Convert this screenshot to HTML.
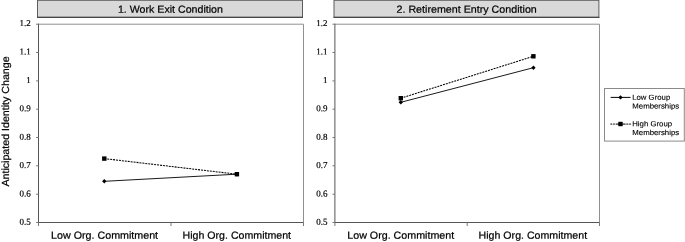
<!DOCTYPE html>
<html>
<head>
<meta charset="utf-8">
<title>Anticipated Identity Change</title>
<style>
html,body{margin:0;padding:0;background:#fff;}
body{width:685px;height:242px;overflow:hidden;}
svg{display:block;}
.sans{font-family:"Liberation Sans",Arial,Helvetica,sans-serif;fill:#000;stroke:#000;stroke-width:0.22px;}
.serif{font-family:"Liberation Serif","Times New Roman",serif;fill:#000;font-size:9px;stroke:#000;stroke-width:0.18px;}
</style>
</head>
<body>
<svg width="685" height="242" viewBox="0 0 685 242" text-rendering="geometricPrecision">
<rect x="0" y="0" width="685" height="242" fill="#fff"/>

<!-- Panel headers -->
<rect x="37.5" y="0.3" width="265" height="17" fill="#d9d9d9" stroke="#5c5c5c" stroke-width="1"/>
<path d="M37 17.3H303" stroke="#3c3c3c" stroke-width="1" fill="none"/>
<rect x="334" y="0.3" width="264.9" height="17" fill="#d9d9d9" stroke="#5c5c5c" stroke-width="1"/>
<path d="M333.5 17.3H599.4" stroke="#3c3c3c" stroke-width="1" fill="none"/>
<g class="sans" font-size="10.3">
<text transform="translate(117.9 12.7) rotate(0.05)" textLength="105" lengthAdjust="spacingAndGlyphs">1. Work Exit Condition</text>
<text transform="translate(396.5 12.7) rotate(0.05)" textLength="140.3" lengthAdjust="spacingAndGlyphs">2. Retirement Entry Condition</text>
</g>

<!-- Panel 1 frame -->
<g fill="none" stroke-width="1">
<path d="M38.5 24.2H303.5V222.5" stroke="#909090"/>
<path d="M38.5 23.7V222.5H303.5" stroke="#555"/>
<path d="M36.1 24.2H38.5M36.1 52.5H38.5M36.1 80.9H38.5M36.1 109.2H38.5M36.1 137.5H38.5M36.1 165.8H38.5M36.1 194.2H38.5M36.1 222.5H38.5" stroke="#777"/>
<path d="M38.5 222.5V226M171 222.5V226M303.5 222.5V226" stroke="#777"/>
</g>
<!-- Panel 2 frame -->
<g fill="none" stroke-width="1">
<path d="M334.9 24.2H599.5V222.5" stroke="#909090"/>
<path d="M334.9 23.7V222.5H599.5" stroke="#555"/>
<path d="M332.5 24.2H334.9M332.5 52.5H334.9M332.5 80.9H334.9M332.5 109.2H334.9M332.5 137.5H334.9M332.5 165.8H334.9M332.5 194.2H334.9M332.5 222.5H334.9" stroke="#777"/>
<path d="M334.9 222.5V226M467.2 222.5V226M599.5 222.5V226" stroke="#777"/>
</g>

<!-- Y tick labels panel 1 -->
<g class="serif" text-anchor="end">
<text transform="translate(30.8 26.10) rotate(0.05)">1.2</text>
<text transform="translate(30.8 54.49) rotate(0.05)">1.1</text>
<text transform="translate(30.8 82.88) rotate(0.05)">1</text>
<text transform="translate(30.8 111.27) rotate(0.05)">0.9</text>
<text transform="translate(30.8 139.66) rotate(0.05)">0.8</text>
<text transform="translate(30.8 168.05) rotate(0.05)">0.7</text>
<text transform="translate(30.8 196.44) rotate(0.05)">0.6</text>
<text transform="translate(30.8 224.83) rotate(0.05)">0.5</text>
</g>
<!-- Y tick labels panel 2 -->
<g class="serif" text-anchor="end">
<text transform="translate(327.5 26.10) rotate(0.05)">1.2</text>
<text transform="translate(327.5 54.49) rotate(0.05)">1.1</text>
<text transform="translate(327.5 82.88) rotate(0.05)">1</text>
<text transform="translate(327.5 111.27) rotate(0.05)">0.9</text>
<text transform="translate(327.5 139.66) rotate(0.05)">0.8</text>
<text transform="translate(327.5 168.05) rotate(0.05)">0.7</text>
<text transform="translate(327.5 196.44) rotate(0.05)">0.6</text>
<text transform="translate(327.5 224.83) rotate(0.05)">0.5</text>
</g>

<!-- Y axis title -->
<text class="sans" font-size="10.3" transform="translate(8.5 186.6) rotate(-90)" textLength="130.2" lengthAdjust="spacingAndGlyphs">Anticipated Identity Change</text>

<!-- X labels -->
<g class="sans" font-size="10.3">
<text transform="translate(51.1 238.7) rotate(0.05)" textLength="107" lengthAdjust="spacingAndGlyphs">Low Org. Commitment</text>
<text transform="translate(182.55 238.7) rotate(0.05)" textLength="108.5" lengthAdjust="spacingAndGlyphs">High Org. Commitment</text>
<text transform="translate(347.25 238.7) rotate(0.05)" textLength="107" lengthAdjust="spacingAndGlyphs">Low Org. Commitment</text>
<text transform="translate(478.6 238.7) rotate(0.05)" textLength="108.5" lengthAdjust="spacingAndGlyphs">High Org. Commitment</text>
</g>

<!-- Data panel 1 -->
<g stroke="#000" stroke-width="0.9" fill="none">
<path d="M104.3 181.3L236.9 174.2"/>
<path d="M104.3 158.6L236.9 174.2" stroke-dasharray="2 0.95" stroke-width="1.05"/>
</g>
<g fill="#000">
<path d="M104.3 179.10l2.2 2.2l-2.2 2.2l-2.2-2.2z"/>
<path d="M236.9 172.00l2.2 2.2l-2.2 2.2l-2.2-2.2z"/>
<rect x="102.10" y="156.40" width="4.4" height="4.4"/>
<rect x="234.70" y="172.00" width="4.4" height="4.4"/>
</g>

<!-- Data panel 2 -->
<g stroke="#000" stroke-width="0.9" fill="none">
<path d="M400.8 102.3L533.4 67.7"/>
<path d="M400.8 98.2L533.4 56.3" stroke-dasharray="2 0.95" stroke-width="1.05"/>
</g>
<g fill="#000">
<path d="M400.8 100.10l2.2 2.2l-2.2 2.2l-2.2-2.2z"/>
<path d="M533.4 65.50l2.2 2.2l-2.2 2.2l-2.2-2.2z"/>
<rect x="398.60" y="96.00" width="4.4" height="4.4"/>
<rect x="531.20" y="54.10" width="4.4" height="4.4"/>
</g>

<!-- Legend -->
<rect x="604.5" y="88.5" width="79.8" height="52.6" fill="#fff" stroke="#8a8a8a" stroke-width="1"/>
<g stroke="#000" stroke-width="1" fill="none">
<path d="M610.7 97.4H630.5"/>
<path d="M610.4 124.1H612.25M613.1 124.1H614.8M615.7 124.1H625.65M626.3 124.1H628.4M629.2 124.1H630.9"/>
</g>
<g fill="#000">
<path d="M620.5 95.20l2.2 2.2l-2.2 2.2l-2.2-2.2z"/>
<rect x="618.30" y="121.80" width="4.4" height="4.4"/>
</g>
<g class="sans" font-size="7.25" style="stroke-width:0.12px">
<text transform="translate(632.2 99.8) rotate(0.05)" textLength="38" lengthAdjust="spacingAndGlyphs">Low Group</text>
<text transform="translate(632.3 108.4) rotate(0.05)" textLength="46.9" lengthAdjust="spacingAndGlyphs">Memberships</text>
<text transform="translate(632.2 126.3) rotate(0.05)" textLength="39.9" lengthAdjust="spacingAndGlyphs">High Group</text>
<text transform="translate(632.3 134.9) rotate(0.05)" textLength="46.9" lengthAdjust="spacingAndGlyphs">Memberships</text>
</g>
</svg>
</body>
</html>
